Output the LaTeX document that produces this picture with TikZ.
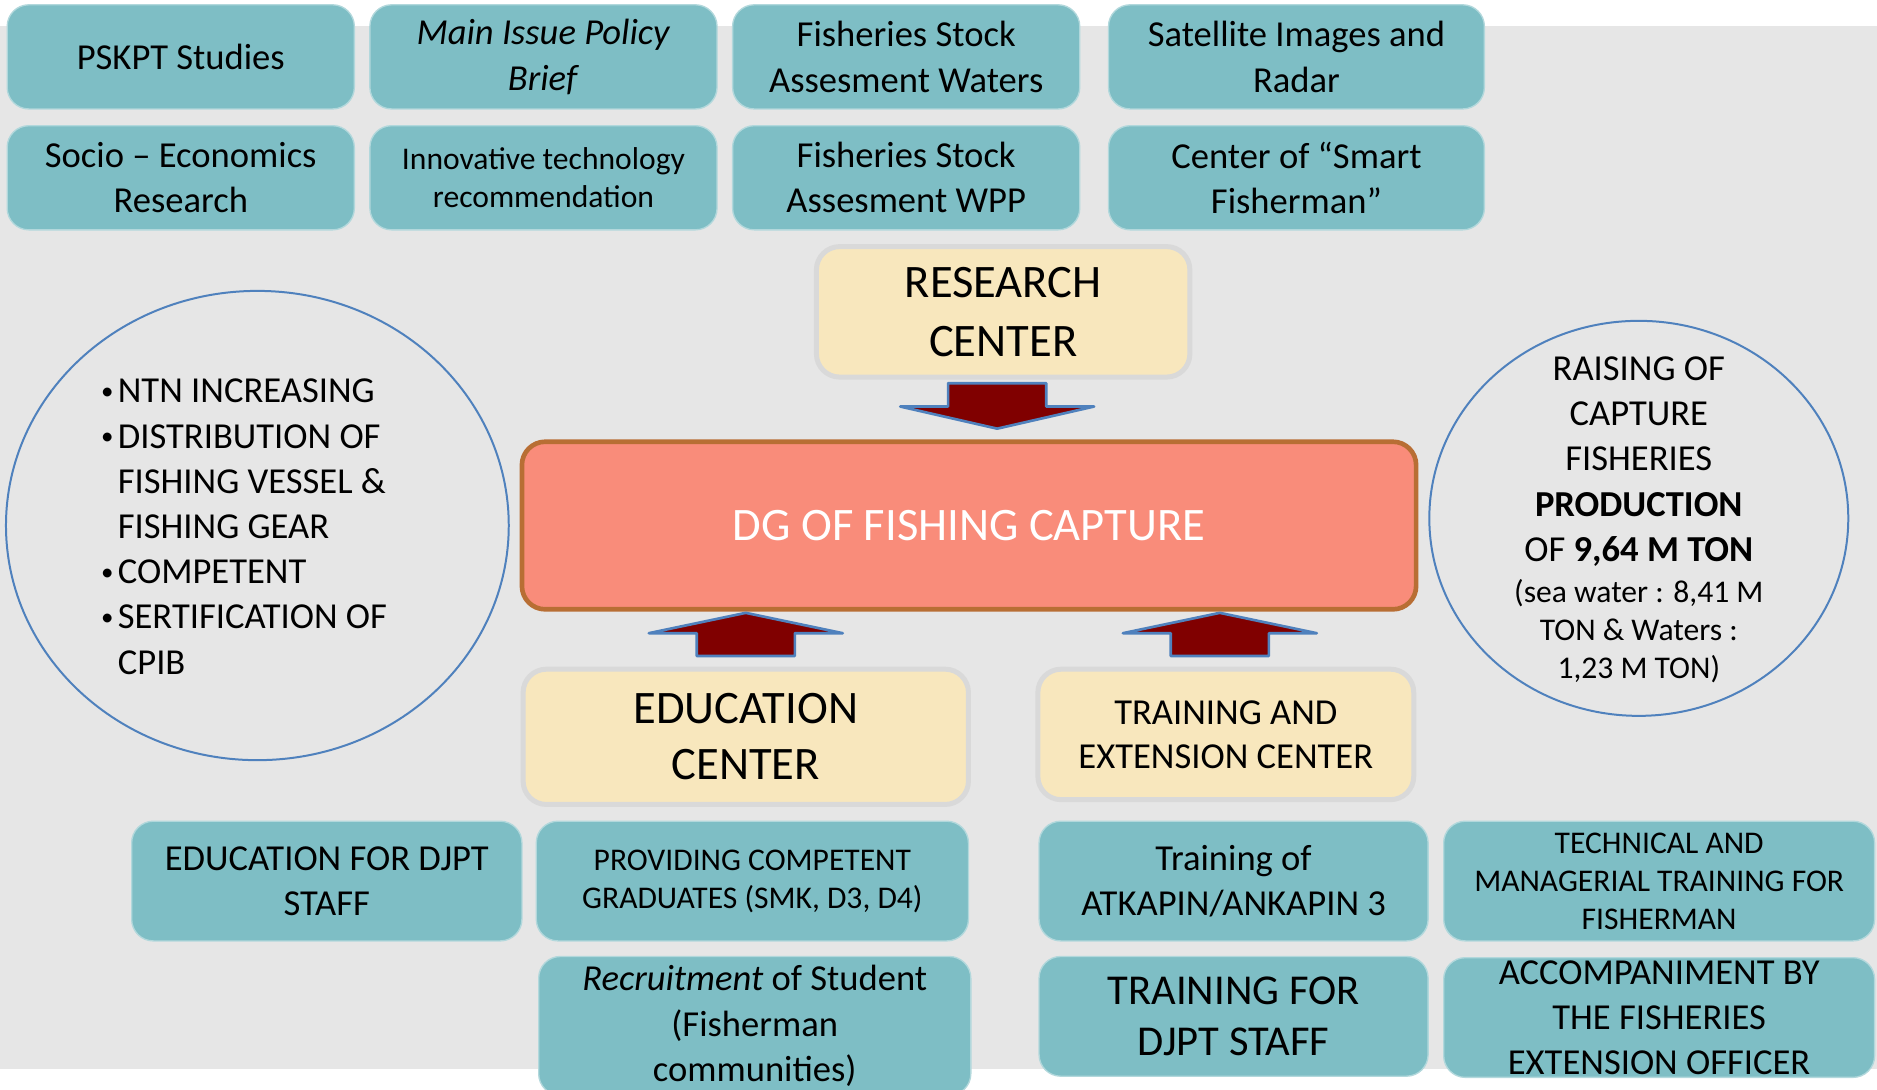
\documentclass[tikz,border=0pt]{standalone}
\usepackage{fontspec}
\setmainfont{Carlito}
\usepackage{xcolor}
\usepackage{tikz}
\usetikzlibrary{shapes.geometric}

\definecolor{bggray}{HTML}{E6E6E6}
\definecolor{boxteal}{HTML}{7EBEC5}
\definecolor{boxcream}{HTML}{F8E7BD}
\definecolor{edgegray}{HTML}{D9D9D9}
\definecolor{dgsalmon}{HTML}{F98C7A}
\definecolor{dgbrown}{HTML}{B86E34}
\definecolor{arrowred}{HTML}{800000}
\definecolor{ringblue}{HTML}{4F81BD}

\newcommand{\itm}{\makebox[5pt][l]{\raisebox{1pt}{\fontsize{7.5}{7.5}\selectfont\textbullet}}}
\newcommand{\itmgap}{\hspace*{5pt}}

\tikzset{
	boxsize/.style 2 args={minimum width=#1*0.36pt, minimum height=#2*0.36pt},
	normaltxt/.style={font=\fontsize{11}{13.6}\selectfont},
	smalltxt/.style={font=\fontsize{9.5}{11.4}\selectfont},
	bigtxt/.style={font=\fontsize{12.8}{15.1}\selectfont},
	card/.style={rectangle, rounded corners=6.5pt, fill=boxteal, draw=boxteal!60!white,
		line width=0.4pt, text=black, align=center, inner sep=0pt},
	centerbox/.style={rectangle, rounded corners=7pt, fill=boxcream, draw=edgegray,
		line width=1.5pt, text=black, align=center, inner sep=0pt},
	blockarrow/.style={fill=arrowred, draw=ringblue, line width=0.8pt, line join=round},
	ring/.style={ellipse, draw=ringblue, line width=0.6pt, inner sep=0pt},
}

\begin{document}
\begin{tikzpicture}[x=0.36pt, y=-0.36pt]
	\useasboundingbox (0,0) rectangle (1568,910);
	\clip (0,0) rectangle (1568,910);
	\fill[bggray] (0,22) rectangle (1568,893); % background
	
	\foreach \i/\x/\w/\fs/\name in {1/151/290/normaltxt/{PSKPT Studies},
		2/454/290/normaltxt/{\textit{Main Issue Policy}\\\textit{Brief}},
		3/757/290/normaltxt/{Fisheries Stock\\Assesment Waters},
		4/1083/314/normaltxt/{Satellite Images and\\Radar}}{
		\node[card,\fs,boxsize={\w}{87}] (ra\i) at (\x,47.5) {\name};
	}
	
	\foreach \i/\x/\w/\fs/\name in {1/151/290/normaltxt/{Socio – Economics\\Research},
		2/454/290/smalltxt/{Innovative technology\\recommendation},
		3/757/290/normaltxt/{Fisheries Stock\\Assesment WPP},
		4/1083/314/normaltxt/{Center of “Smart\\Fisherman”}}{
		\node[card,\fs,boxsize={\w}{87}] (rb\i) at (\x,148.5) {\name};
	}
	
	\node[centerbox,boxsize={312}{109},font=\fontsize{14}{17.6}\selectfont] 
	(research) at (838,260.5) {RESEARCH\\CENTER};
	
	\node[rectangle,rounded corners=7pt,fill=dgsalmon,draw=dgbrown,line width=1.4pt,
		text=white,inner sep=0pt,boxsize={747}{140},font=\fontsize{14}{17}\selectfont] 
	(dg) at (809.5,439) {DG OF FISHING CAPTURE};
	
	\node[centerbox,boxsize={372}{113},font=\fontsize{14}{16.9}\selectfont] 
	(edu) at (623,615.5) {EDUCATION\\CENTER};
	\node[centerbox,boxsize={314}{109},font=\fontsize{11}{13.3}\selectfont] 
	(train) at (1024,613.5) {TRAINING AND\\EXTENSION CENTER};
	
	% block arrows
	\draw[blockarrow] (research.south) ++(-46,3) -- ++(82,0) -- ++(0,19.5) -- ++(40,0)
	-- ++(-81,18.5) -- ++(-81,-18.5) -- ++(40,0) -- cycle;
	\foreach \n/\dx in {edu/0,train/-5}{
		\draw[blockarrow] (\n.north |- dg.south) ++(\dx,1) -- ++(81,17) -- ++(-40,0) -- ++(0,19)
		-- ++(-82,0) -- ++(0,-19) -- ++(-40,0) -- cycle;
	}
	
	% goals
	\node[ring,boxsize={420}{392}] (goalL) at (215,439) {};
	\node[normaltxt,anchor=west,align=left,inner sep=0pt] (goalLtxt) at (84,440) 
	{\itm NTN INCREASING\\\itm DISTRIBUTION OF\\\itmgap FISHING VESSEL \&\\\itmgap FISHING GEAR\\\itm COMPETENT\\\itm SERTIFICATION OF\\\itmgap CPIB};
	
	\node[ring,boxsize={350}{330}] (goalR) at (1369,433) {};
	\node[normaltxt,align=center,inner sep=0pt] (goalRtxt) at (1369,385.5) 
	{RAISING OF\\CAPTURE\\FISHERIES\\\textbf{PRODUCTION}\\OF \textbf{9,64 M TON}};
	\node[smalltxt,align=center,inner sep=0pt] (goalRsub) at (1369,527) 
	{(sea water : 8,41 M\\TON \& Waters :\\1,23 M TON)};
	
	\foreach \i/\x/\y/\w/\h/\fs/\name in {1/273/736/326/100/normaltxt/{EDUCATION FOR DJPT\\STAFF},
		2/628.5/736/361/100/smalltxt/{PROVIDING COMPETENT\\GRADUATES (SMK, D3, D4)},
		3/630.5/857/361/116/normaltxt/{\textit{Recruitment} of Student\\(Fisherman\\communities)}}{
		\node[card,\fs,boxsize={\w}{\h}] (ed\i) at (\x,\y) {\name};
	}
	
	\foreach \i/\x/\y/\w/\fs/\name in {1/1030.5/736/325/normaltxt/{Training of\\ATKAPIN/ANKAPIN 3},
		2/1386/736/360/smalltxt/{TECHNICAL AND\\MANAGERIAL TRAINING FOR\\FISHERMAN},
		3/1030.5/849/325/bigtxt/{TRAINING FOR\\DJPT STAFF},
		4/1386/850/360/normaltxt/{ACCOMPANIMENT BY\\THE FISHERIES\\EXTENSION OFFICER}}{
		\node[card,\fs,boxsize={\w}{100}] (tr\i) at (\x,\y) {\name};
	}
\end{tikzpicture}
\end{document}
